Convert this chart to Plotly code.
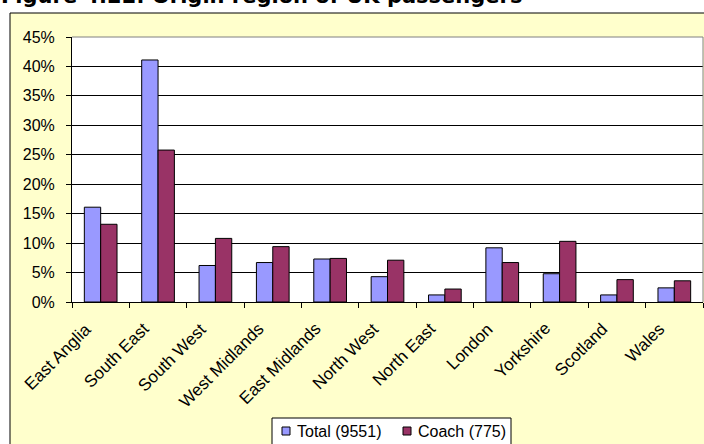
import plotly.graph_objects as go

regions = ["East Anglia", "South East", "South West", "West Midlands", "East Midlands",
           "North West", "North East", "London", "Yorkshire", "Scotland", "Wales"]
total_pct = [16.1, 41.1, 6.2, 6.7, 7.3, 4.3, 1.2, 9.2, 4.8, 1.2, 2.4]
coach_pct = [13.2, 25.8, 10.8, 9.4, 7.4, 7.1, 2.2, 6.7, 10.3, 3.8, 3.6]
series_names = ["Total (9551)", "Coach (775)"]
series_colors = ["#9999FF", "#993366"]
y_ticks = [0, 5, 10, 15, 20, 25, 30, 35, 40, 45]
title_text = "Figure 4.22: Origin region of UK passengers"

W, H = 704, 444
L, R, T, B = 72, 1, 37, 142
pw, ph = W - L - R, H - T - B

def px_x(p):
    return (p - L) / pw

def px_y(p):
    return (H - B - p) / ph

fig = go.Figure()
for vals, name, col in zip([total_pct, coach_pct], series_names, series_colors):
    fig.add_trace(go.Bar(x=regions, y=[v / 100 for v in vals], name=name,
                         marker=dict(color=col, line=dict(color="black", width=1)),
                         showlegend=False))

shapes = [
    dict(type="rect", xref="paper", yref="paper", x0=px_x(10), x1=px_x(720),
         y0=px_y(470), y1=px_y(13), fillcolor="#FFFFCC",
         line=dict(color="black", width=1), layer="below"),
    dict(type="rect", xref="paper", yref="paper", x0=0, x1=1, y0=0, y1=1,
         fillcolor="white", line=dict(width=0), layer="below"),
    dict(type="line", xref="paper", yref="paper", x0=0, x1=1, y0=1, y1=1,
         line=dict(color="#808080", width=1), layer="above"),
    dict(type="line", xref="paper", yref="paper", x0=1, x1=1, y0=0, y1=1,
         line=dict(color="#808080", width=1), layer="above"),
    # legend box
    dict(type="rect", xref="paper", yref="paper", x0=px_x(272), x1=px_x(511),
         y0=px_y(450), y1=px_y(418), fillcolor="white",
         line=dict(color="black", width=1), layer="above"),
]

annotations = [dict(text="<b>" + title_text + "</b>", xref="paper", yref="paper",
                    x=px_x(-1), y=px_y(10), xanchor="left", yanchor="bottom",
                    showarrow=False,
                    font=dict(family="DejaVu Sans", size=21, color="black"))]

# rotated category labels (placed at each category's index on the axis)
for i, reg in enumerate(regions):
    annotations.append(dict(text=reg, xref="x", yref="paper", x=i, y=px_y(318),
                            xanchor="right", yanchor="top", xshift=-4, textangle=-45,
                            showarrow=False, borderpad=0,
                            font=dict(family="Liberation Sans, Arial", size=17, color="black")))

legend_sq_x = [282, 403]
for sx, name, col in zip(legend_sq_x, series_names, series_colors):
    shapes.append(dict(type="rect", xref="paper", yref="paper",
                       x0=px_x(sx), x1=px_x(sx + 8), y0=px_y(435), y1=px_y(427),
                       fillcolor=col, line=dict(color="black", width=1), layer="above"))
    annotations.append(dict(text=name, xref="paper", yref="paper",
                            x=px_x(sx + 13), y=px_y(431), xanchor="left", yanchor="middle",
                            showarrow=False,
                            font=dict(family="Liberation Sans, Arial", size=16, color="black")))

fig.update_layout(
    width=W, height=H,
    margin=dict(l=L, r=R, t=T, b=B, autoexpand=False),
    paper_bgcolor="white", plot_bgcolor="rgba(0,0,0,0)",
    barmode="group", bargap=0.43, bargroupgap=0,
    font=dict(family="Liberation Sans, Arial", color="black"),
    shapes=shapes, annotations=annotations,
    showlegend=False,
)

fig.update_xaxes(type="category", categoryorder="array", categoryarray=regions,
                 range=[-0.5, len(regions) - 0.5],
                 showline=True, linecolor="black", linewidth=1,
                 ticks="outside", ticklen=5, tickcolor="black", tickson="boundaries",
                 showticklabels=False, showgrid=False, automargin=False)
fig.update_yaxes(range=[0, 0.45], tickvals=[v / 100 for v in y_ticks],
                 ticktext=[f"{v}%" for v in y_ticks],
                 showline=True, linecolor="black", linewidth=1,
                 ticks="outside", ticklen=5, tickcolor="black", ticklabelstandoff=8,
                 showgrid=True, gridcolor="black", gridwidth=1, zeroline=False,
                 tickfont=dict(size=16), automargin=False)

fig.write_html("out.html")
